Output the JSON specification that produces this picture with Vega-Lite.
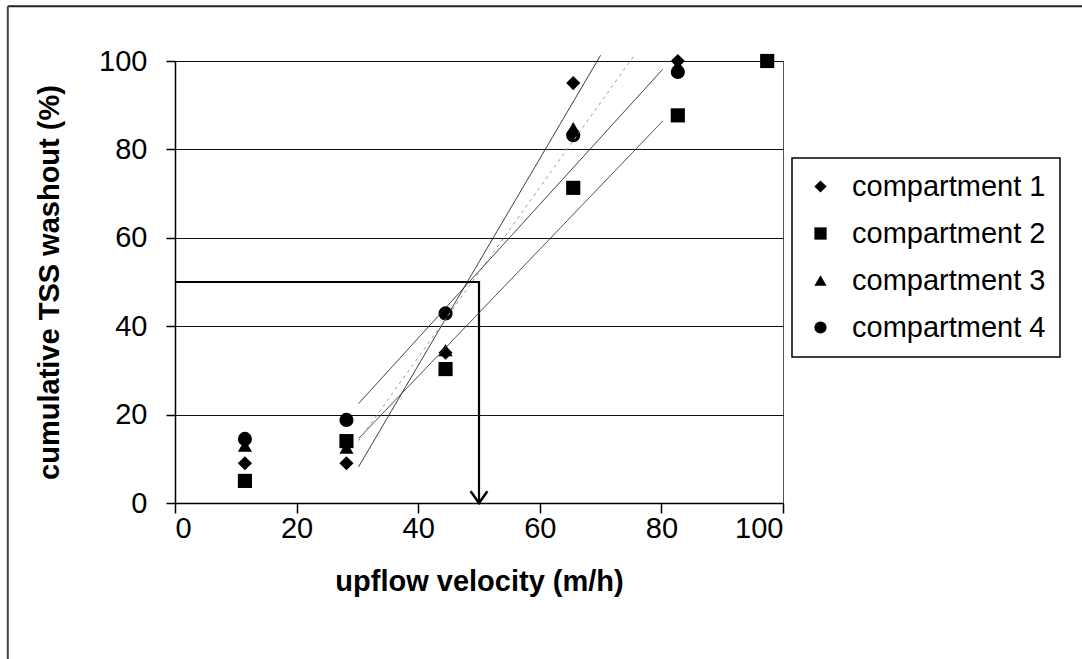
{
  "$schema": "https://vega.github.io/schema/vega-lite/v6.json",
  "width": 608,
  "height": 442,
  "autosize": {"type": "none"},
  "padding": {"left": 175, "top": 61, "right": 299, "bottom": 156},
  "background": "white",
  "datasets": {
    "washout": [
      {"series": "compartment 1", "velocity": 11.5, "washout": 9},
      {"series": "compartment 1", "velocity": 28.2, "washout": 9},
      {"series": "compartment 1", "velocity": 44.5, "washout": 34},
      {"series": "compartment 1", "velocity": 65.5, "washout": 95},
      {"series": "compartment 1", "velocity": 82.7, "washout": 100},
      {"series": "compartment 2", "velocity": 11.5, "washout": 5},
      {"series": "compartment 2", "velocity": 28.2, "washout": 14},
      {"series": "compartment 2", "velocity": 44.5, "washout": 30.3},
      {"series": "compartment 2", "velocity": 65.5, "washout": 71.3},
      {"series": "compartment 2", "velocity": 82.7, "washout": 87.7},
      {"series": "compartment 2", "velocity": 97.4, "washout": 100},
      {"series": "compartment 3", "velocity": 11.5, "washout": 13},
      {"series": "compartment 3", "velocity": 28.2, "washout": 12.5},
      {"series": "compartment 3", "velocity": 44.5, "washout": 34.6},
      {"series": "compartment 3", "velocity": 65.5, "washout": 84.8},
      {"series": "compartment 3", "velocity": 82.7, "washout": 99},
      {"series": "compartment 4", "velocity": 11.5, "washout": 14.5},
      {"series": "compartment 4", "velocity": 28.2, "washout": 18.8},
      {"series": "compartment 4", "velocity": 44.5, "washout": 42.9},
      {"series": "compartment 4", "velocity": 65.5, "washout": 83.2},
      {"series": "compartment 4", "velocity": 82.7, "washout": 97.5}
    ],
    "trend": [
      {"series": "compartment 1", "velocity": 30.2, "washout": 8.2},
      {"series": "compartment 1", "velocity": 70.0, "washout": 101.3},
      {"series": "compartment 2", "velocity": 30.2, "washout": 14.6},
      {"series": "compartment 2", "velocity": 80.2, "washout": 86.4},
      {"series": "compartment 3", "velocity": 30.2, "washout": 14.1},
      {"series": "compartment 3", "velocity": 75.4, "washout": 101.0},
      {"series": "compartment 4", "velocity": 30.2, "washout": 22.5},
      {"series": "compartment 4", "velocity": 80.2, "washout": 98.1}
    ],
    "cutoff": [
      {"step": 1, "velocity": 0, "washout": 50},
      {"step": 2, "velocity": 50, "washout": 50},
      {"step": 3, "velocity": 50, "washout": 0}
    ],
    "arrow": [
      {"velocity": 50, "washout": 0}
    ]
  },
  "config": {
    "font": "Liberation Sans",
    "view": {"stroke": "#555", "strokeWidth": 1},
    "axis": {
      "labelFont": "Liberation Sans",
      "labelFontSize": 29,
      "labelColor": "black",
      "titleFont": "Liberation Sans",
      "titleFontSize": 29,
      "titleFontWeight": "bold",
      "titleColor": "black",
      "domainColor": "black",
      "domainWidth": 1.5,
      "tickColor": "black",
      "tickWidth": 1.5,
      "grid": false
    },
    "axisX": {"tickSize": 10, "labelPadding": 1, "titlePadding": 24},
    "axisY": {"tickSize": 9, "labelPadding": 19, "titlePadding": 34},
    "legend": {
      "orient": "none",
      "legendX": 617,
      "legendY": 97,
      "strokeColor": "black",
      "strokeWidth": 1.5,
      "fillColor": "white",
      "padding": 14,
      "labelFont": "Liberation Sans",
      "labelFontSize": 29,
      "labelColor": "black",
      "labelLimit": 0,
      "labelOffset": 17,
      "rowPadding": 17,
      "symbolSize": 150,
      "symbolFillColor": "black",
      "symbolStrokeWidth": 0,
      "symbolOpacity": 1
    }
  },
  "layer": [
    {
      "description": "outer chart border, top edge",
      "data": {"values": [{}]},
      "mark": {"type": "rule", "color": "#222", "strokeWidth": 2},
      "encoding": {
        "x": {"datum": -27.5, "type": "quantitative", "scale": {"domain": [0, 100], "nice": false}},
        "x2": {"datum": 150},
        "y": {"datum": 112.4, "type": "quantitative", "scale": {"domain": [0, 100], "nice": false}}
      }
    },
    {
      "description": "outer chart border, left edge",
      "data": {"values": [{}]},
      "mark": {"type": "rule", "color": "#444", "strokeWidth": 2},
      "encoding": {
        "x": {"datum": -27.5, "type": "quantitative"},
        "y": {"datum": 112.4, "type": "quantitative"},
        "y2": {"datum": -40}
      }
    },
    {
      "data": {"name": "washout"},
      "mark": {"type": "point", "filled": true, "color": "black", "opacity": 1, "size": 200},
      "encoding": {
        "x": {
          "field": "velocity",
          "type": "quantitative",
          "scale": {"domain": [0, 100], "nice": false},
          "axis": {"values": [0, 20, 40, 60, 80, 100], "title": "upflow velocity (m/h)"}
        },
        "y": {
          "field": "washout",
          "type": "quantitative",
          "scale": {"domain": [0, 100], "nice": false},
          "axis": {
            "values": [0, 20, 40, 60, 80, 100],
            "grid": true,
            "gridColor": "#111",
            "gridWidth": 1,
            "title": "cumulative TSS washout (%)"
          }
        },
        "shape": {
          "field": "series",
          "type": "nominal",
          "scale": {
            "domain": ["compartment 1", "compartment 2", "compartment 3", "compartment 4"],
            "range": ["diamond", "square", "triangle-up", "circle"]
          },
          "legend": {"title": null}
        }
      }
    },
    {
      "data": {"name": "trend"},
      "mark": {"type": "line", "strokeWidth": 1, "clip": false},
      "encoding": {
        "x": {"field": "velocity", "type": "quantitative"},
        "y": {"field": "washout", "type": "quantitative"},
        "detail": {"field": "series", "type": "nominal"},
        "color": {
          "field": "series",
          "type": "nominal",
          "scale": {
            "domain": ["compartment 1", "compartment 2", "compartment 3", "compartment 4"],
            "range": ["#222", "#333", "#999", "#222"]
          },
          "legend": null
        },
        "strokeDash": {
          "field": "series",
          "type": "nominal",
          "scale": {
            "domain": ["compartment 1", "compartment 2", "compartment 3", "compartment 4"],
            "range": [[1, 0], [1, 0], [3, 4], [1, 0]]
          },
          "legend": null
        }
      }
    },
    {
      "data": {"name": "cutoff"},
      "mark": {"type": "line", "color": "black", "strokeWidth": 2.2},
      "encoding": {
        "x": {"field": "velocity", "type": "quantitative"},
        "y": {"field": "washout", "type": "quantitative"},
        "order": {"field": "step"}
      }
    },
    {
      "data": {"name": "arrow"},
      "mark": {
        "type": "point",
        "shape": "M-1,-1.4L0,0L1,-1.4",
        "filled": false,
        "color": "black",
        "strokeWidth": 2.5,
        "size": 280,
        "opacity": 1
      },
      "encoding": {
        "x": {"field": "velocity", "type": "quantitative"},
        "y": {"field": "washout", "type": "quantitative"}
      }
    }
  ]
}
